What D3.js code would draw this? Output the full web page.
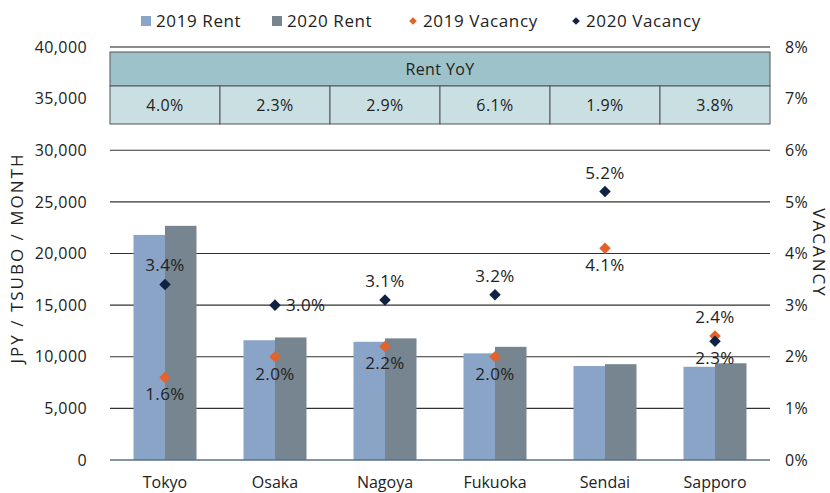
<!DOCTYPE html>
<html>
<head>
<meta charset="utf-8">
<script src="https://cdnjs.cloudflare.com/ajax/libs/d3/7.8.5/d3.min.js"></script>
<style>
  body { margin: 0; background: #fff; }
  text { font-family: "Open Sans", "Noto Sans", sans-serif; fill: #222; }
</style>
</head>
<body>
<script>
'use strict';

// chart data
const cities = ["Tokyo", "Osaka", "Nagoya", "Fukuoka", "Sendai", "Sapporo"];
const rent2019 = [21800, 11600, 11450, 10330, 9100, 9030];
const rent2020 = [22680, 11870, 11780, 10960, 9280, 9370];
const vacancy2019 = [1.6, 2.0, 2.2, 2.0, 4.1, 2.4];
const vacancy2020 = [3.4, 3.0, 3.1, 3.2, 5.2, 2.3];
const rentYoY = ["4.0%", "2.3%", "2.9%", "6.1%", "1.9%", "3.8%"];
// where each vacancy label sits relative to its marker
const labelPos2019 = ["below", "below", "below", "below", "below", "above"];
const labelPos2020 = ["above", "right", "above", "above", "above", "below"];
const leftTicks = [0, 5000, 10000, 15000, 20000, 25000, 30000, 35000, 40000];
const rightTicks = [0, 1, 2, 3, 4, 5, 6, 7, 8];

(function() {

  const colors = {
    rent2019: "#8aa4c8",
    rent2020: "#76858f",
    vac2019: "#e2632b",
    vac2020: "#0f2244"
  };

  const left = 110, right = 770, top = 47, bottom = 460;

  const svg = d3.select('body')
    .append('svg')
    .attr('width', 830)
    .attr('height', 493);

  // scales
  const x = d3.scaleBand()
    .domain(cities)
    .range([left, right]);

  const yRent = d3.scaleLinear()
    .domain([0, 40000])
    .range([bottom, top]);

  const yVac = d3.scaleLinear()
    .domain([0, 8])
    .range([bottom, top]);

  const barW = 31.5;

  // gridlines
  svg.append('g')
    .selectAll('line')
    .data(leftTicks.slice(1))
    .enter()
    .append('line')
      .attr('x1', left)
      .attr('x2', right)
      .attr('y1', d => yRent(d))
      .attr('y2', d => yRent(d))
      .attr('stroke', d => d === 40000 ? '#666' : '#333')
      .attr('stroke-width', d => d === 40000 ? 1.5 : 1.2);

  // left axis
  const leftAxis = svg.append('g')
    .attr('transform', `translate(${left}, 0)`)
    .call(d3.axisLeft(yRent).tickValues(leftTicks).tickFormat(d3.format(',')).tickSize(0).tickPadding(23));
  leftAxis.select('.domain').remove();
  leftAxis.selectAll('text').style('font-size', '16px').style('letter-spacing', '0.4px').attr('fill', '#222');

  // right axis
  const rightAxis = svg.append('g')
    .attr('transform', `translate(${right}, 0)`)
    .call(d3.axisRight(yVac).tickValues(rightTicks).tickFormat(d => d + '%').tickSize(0).tickPadding(15));
  rightAxis.select('.domain').remove();
  rightAxis.selectAll('text').style('font-size', '16px').style('letter-spacing', '0.4px').attr('fill', '#222');

  // bars
  svg.append('g')
    .selectAll('rect')
    .data(cities)
    .enter()
    .append('rect')
      .attr('x', d => x(d) + x.bandwidth() / 2 - barW)
      .attr('y', (d, i) => yRent(rent2019[i]))
      .attr('width', barW)
      .attr('height', (d, i) => bottom - yRent(rent2019[i]))
      .attr('fill', colors.rent2019);

  svg.append('g')
    .selectAll('rect')
    .data(cities)
    .enter()
    .append('rect')
      .attr('x', d => x(d) + x.bandwidth() / 2)
      .attr('y', (d, i) => yRent(rent2020[i]))
      .attr('width', barW)
      .attr('height', (d, i) => bottom - yRent(rent2020[i]))
      .attr('fill', colors.rent2020);

  // baseline
  svg.append('line')
    .attr('x1', left).attr('x2', right)
    .attr('y1', bottom).attr('y2', bottom)
    .attr('stroke', '#5d6f8c')
    .attr('stroke-width', 1.5);

  // category labels
  svg.append('g')
    .selectAll('text')
    .data(cities)
    .enter()
    .append('text')
      .attr('x', d => x(d) + x.bandwidth() / 2)
      .attr('y', 488)
      .attr('text-anchor', 'middle')
      .style('font-size', '16px')
      .text(d => d);

  // Rent YoY table
  const tableTop = 52, headH = 34, rowH = 38;
  svg.append('rect')
    .attr('x', left).attr('y', tableTop)
    .attr('width', right - left).attr('height', headH)
    .attr('fill', '#9ec2c9').attr('stroke', '#555').attr('stroke-width', 1);
  svg.append('text')
    .attr('x', (left + right) / 2).attr('y', tableTop + headH / 2 + 6)
    .attr('text-anchor', 'middle')
    .style('font-size', '16px')
    .style('letter-spacing', '0.4px')
    .text('Rent YoY');

  svg.append('g')
    .selectAll('rect')
    .data(cities)
    .enter()
    .append('rect')
      .attr('x', d => x(d))
      .attr('y', tableTop + headH)
      .attr('width', x.bandwidth())
      .attr('height', rowH)
      .attr('fill', '#cadfe2')
      .attr('stroke', '#555')
      .attr('stroke-width', 1);

  svg.append('g')
    .selectAll('text')
    .data(cities)
    .enter()
    .append('text')
      .attr('x', d => x(d) + x.bandwidth() / 2)
      .attr('y', tableTop + headH + rowH / 2 + 6)
      .attr('text-anchor', 'middle')
      .style('font-size', '16px')
      .style('letter-spacing', '0.4px')
      .text((d, i) => rentYoY[i]);

  // vacancy markers + labels
  const diamond = d3.symbol().type(d3.symbolDiamond2).size(85);

  function plotVacancy(values, positions, color) {
    const g = svg.append('g');
    g.selectAll('path')
      .data(cities)
      .enter()
      .append('path')
        .attr('d', diamond)
        .attr('transform', (d, i) => `translate(${x(d) + x.bandwidth() / 2}, ${yVac(values[i])})`)
        .attr('fill', color);

    g.selectAll('text')
      .data(cities)
      .enter()
      .append('text')
        .attr('x', (d, i) => x(d) + x.bandwidth() / 2 + (positions[i] === 'right' ? 11 : 0))
        .attr('y', (d, i) => {
          const cy = yVac(values[i]);
          if (positions[i] === 'above') return cy - 13;
          if (positions[i] === 'below') return cy + 23;
          return cy + 6;
        })
        .attr('text-anchor', (d, i) => positions[i] === 'right' ? 'start' : 'middle')
        .style('font-size', '17px')
        .style('letter-spacing', '0.4px')
        .text((d, i) => values[i].toFixed(1) + '%');
  }

  plotVacancy(vacancy2019, labelPos2019, colors.vac2019);
  plotVacancy(vacancy2020, labelPos2020, colors.vac2020);

  // axis titles
  svg.append('text')
    .attr('transform', 'translate(23, 258)rotate(-90)')
    .attr('text-anchor', 'middle')
    .style('font-size', '17px')
    .style('letter-spacing', '2px')
    .text('JPY / TSUBO / MONTH');

  svg.append('text')
    .attr('transform', 'translate(813, 253)rotate(90)')
    .attr('text-anchor', 'middle')
    .style('font-size', '17px')
    .style('letter-spacing', '2px')
    .text('VACANCY');

  // legend
  const legendItems = [
    { label: '2019 Rent', color: colors.rent2019, shape: 'square', x: 146 },
    { label: '2020 Rent', color: colors.rent2020, shape: 'square', x: 277 },
    { label: '2019 Vacancy', color: colors.vac2019, shape: 'diamond', x: 413 },
    { label: '2020 Vacancy', color: colors.vac2020, shape: 'diamond', x: 576 }
  ];
  const legend = svg.append('g');
  legendItems.forEach(item => {
    if (item.shape === 'square') {
      legend.append('rect')
        .attr('x', item.x - 5).attr('y', 16)
        .attr('width', 10).attr('height', 10)
        .attr('fill', item.color);
    } else {
      legend.append('path')
        .attr('d', d3.symbol().type(d3.symbolDiamond2).size(38))
        .attr('transform', `translate(${item.x}, 21)`)
        .attr('fill', item.color);
    }
    legend.append('text')
      .attr('x', item.x + 10).attr('y', 27)
      .style('font-size', '17px')
      .style('letter-spacing', '0.6px')
      .text(item.label);
  });

})();
</script>
</body>
</html>
